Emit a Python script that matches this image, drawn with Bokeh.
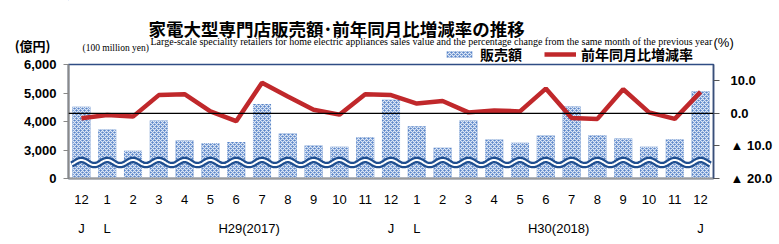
import numpy as np
from bokeh.plotting import figure
from bokeh.layouts import column
from bokeh.models import (Range1d, LinearAxis, FixedTicker, Span, Legend,
                          LegendItem, ColumnDataSource)
from bokeh.core.properties import value
from bokeh.embed import file_html
from bokeh.resources import INLINE

# ---- data ----
months = ["12", "1", "2", "3", "4", "5", "6", "7", "8", "9", "10", "11",
          "12", "1", "2", "3", "4", "5", "6", "7", "8", "9", "10", "11", "12"]
sales = [4520, 3720, 2970, 4035, 3330, 3250, 3280, 4610, 3575, 3160, 3115, 3445,
         4760, 3835, 3080, 4035, 3365, 3255, 3505, 4530, 3515, 3400, 3115, 3375, 5060]
pct_change = [-1.5, -0.5, -1.0, 5.6, 5.9, 0.6, -2.4, 9.4, 5.2, 1.1, -0.4, 5.9,
              5.6, 3.0, 3.8, 0.3, 0.9, 0.6, 7.6, -1.4, -1.7, 7.4, 0.3, -1.7, 6.6]
left_ticks = [2000, 3000, 4000, 5000, 6000]
left_labels = ["0", "3,000", "4,000", "5,000", "6,000"]
right_ticks = [-20, -10, 0, 10]
right_labels = ["▲ 20.0", "▲ 10.0", "0.0", "10.0"]
year_ticks = [0, 1, 6.5, 12, 13, 18.5, 24]
year_labels = ["J", "L", "H29(2017)", "J", "L", "H30(2018)", "J"]
title = "家電大型専門店販売額･前年同月比増減率の推移"
subtitle = ("Large-scale speciality retailers for home electric appliances sales value "
            "and the percentage change from the same month of the previous year")
unit_left = "(億円)"
unit_left_en = "(100 million yen)"
unit_right = "(%)"
legend_labels = ["販売額", "前年同月比増減率"]

W = 779
HEAD_H = 64
OVER = 12
FRAME_H = 114
MAIN_H = 244 - HEAD_H + OVER
FL, FR = 68, 713

BAR_STYLE = dict(fill_color="#5a85c8", line_color=None,
                 hatch_pattern="diagonal_cross", hatch_color="#e3ecf8",
                 hatch_scale=4, hatch_weight=1.1)
LINE_STYLE = dict(line_color="#c0282b", line_width=4.5)

xs = list(range(len(months)))
src = ColumnDataSource(dict(x=xs, sales=sales, pct=pct_change))

# ---------------- header figure (titles + legend) ----------------
h = figure(width=W, height=HEAD_H, output_backend="svg", toolbar_location=None,
           x_range=Range1d(FL, FR), y_range=Range1d(HEAD_H, 0),
           min_border_left=FL, min_border_right=W - FR,
           min_border_top=0, min_border_bottom=0)
h.xaxis.visible = False
h.grid.visible = False
h.outline_line_color = None

hl = h.yaxis[0]
hl.ticker = FixedTicker(ticks=[45])
hl.major_label_overrides = {45: unit_left}
hl.axis_line_color = None
hl.major_tick_line_color = None
hl.minor_tick_line_color = None
hl.major_tick_out = 0
hl.major_label_standoff = 18
hl.major_label_text_font = "Noto Sans CJK JP"
hl.major_label_text_font_style = "bold"
hl.major_label_text_font_size = "13px"
hl.major_label_text_color = "black"

hr = LinearAxis(ticker=FixedTicker(ticks=[42]), major_label_overrides={42: unit_right})
hr.axis_line_color = None
hr.major_tick_line_color = None
hr.minor_tick_line_color = None
hr.major_tick_out = 0
hr.major_label_standoff = 0
hr.major_label_text_font = "Liberation Sans"
hr.major_label_text_font_size = "13px"
hr.major_label_text_color = "black"
h.add_layout(hr, "right")


def htext(xc, yc, text, font, size, style="normal"):
    h.text(x=[xc], y=[yc], text=[text], text_font=value(font), text_font_size=size,
           text_font_style=style, text_align="left", text_baseline="middle",
           text_color="black")


htext(148, 28, title, "Noto Sans CJK JP", "17.5px", "bold")
htext(150, 40.5, subtitle, "Liberation Serif", "10px")
htext(82, 47, unit_left_en, "Liberation Serif", "9.5px")

lsrc = ColumnDataSource(dict(x=[-100, -99], y=[-100, -99]))
lb = h.vbar(x="x", top="y", bottom=-200, width=0.5, source=lsrc, **BAR_STYLE)
ll = h.line(x="x", y="y", source=lsrc, **LINE_STYLE)
legend = Legend(items=[LegendItem(label=legend_labels[0], renderers=[lb]),
                       LegendItem(label=legend_labels[1], renderers=[ll])],
                orientation="horizontal", location=(375, 0),
                padding=0, margin=0, spacing=22, label_standoff=5,
                glyph_width=32, glyph_height=8,
                background_fill_alpha=0, border_line_color=None,
                label_text_font="Noto Sans CJK JP", label_text_font_style="bold",
                label_text_font_size="14px", label_text_color="black",
                label_height=14)
h.add_layout(legend, "center")

# ---------------- main figure ----------------
p = figure(width=W, height=MAIN_H, output_backend="svg", toolbar_location=None,
           x_range=Range1d(-0.5, 24.5), y_range=Range1d(2000, 6000),
           min_border_left=FL, min_border_right=W - FR,
           min_border_top=OVER, min_border_bottom=MAIN_H - OVER - FRAME_H,
           margin=(-OVER, 0, 0, 0))
p.border_fill_color = None
p.extra_y_ranges = {"pct": Range1d(-20, 15)}
p.xgrid.visible = False
p.ygrid.visible = False
p.outline_line_color = "#2f4d84"
p.outline_line_width = 1.5

bars = p.vbar(x="x", top="sales", bottom=2000, width=0.7, source=src, **BAR_STYLE)

# axis-break wave decoration
wx = np.linspace(-0.38, 24.38, 900)
wy = 2560 + 90 * np.sin(2 * np.pi * (wx + 0.25))
p.line(wx, wy, line_color="#1f4e8f", line_width=6.5)
p.line(wx, wy, line_color="white", line_width=2)

p.add_layout(Span(location=0, dimension="width", y_range_name="pct",
                  line_color="black", line_width=1.2))

line = p.line(x="x", y="pct", source=src, y_range_name="pct", **LINE_STYLE)

# left axis
ya = p.yaxis[0]
ya.ticker = FixedTicker(ticks=left_ticks)
ya.major_label_overrides = {t: l for t, l in zip(left_ticks, left_labels)}
ya.minor_tick_line_color = None
ya.major_tick_out = 5
ya.major_tick_in = 0
ya.major_tick_line_color = "#888888"
ya.axis_line_color = "#8a8a8a"
ya.axis_line_width = 2
ya.major_label_standoff = 7
ya.major_label_text_font = "Liberation Sans"
ya.major_label_text_font_style = "bold"
ya.major_label_text_font_size = "13px"
ya.major_label_text_color = "black"

# right axis
ra = LinearAxis(y_range_name="pct", ticker=FixedTicker(ticks=right_ticks),
                major_label_overrides={t: l for t, l in zip(right_ticks, right_labels)})
ra.minor_tick_line_color = None
ra.major_tick_out = 6
ra.major_tick_in = 0
ra.major_tick_line_color = "#555555"
ra.axis_line_color = "#3a4f78"
ra.axis_line_width = 1.5
ra.major_label_standoff = 11
ra.major_label_text_font = "Liberation Sans"
ra.major_label_text_font_style = "bold"
ra.major_label_text_font_size = "13px"
ra.major_label_text_color = "black"
p.add_layout(ra, "right")

# bottom axis (months)
xa = p.xaxis[0]
xa.ticker = FixedTicker(ticks=xs)
xa.major_label_overrides = {i: m for i, m in zip(xs, months)}
xa.minor_tick_line_color = None
xa.major_tick_line_color = None
xa.major_tick_out = 0
xa.major_tick_in = 0
xa.axis_line_color = "#9a9a9a"
xa.axis_line_width = 2
xa.major_label_standoff = 16
xa.major_label_text_font = "Liberation Sans"
xa.major_label_text_font_size = "13px"
xa.major_label_text_color = "black"

# second bottom axis (years)
xa2 = LinearAxis(ticker=FixedTicker(ticks=year_ticks),
                 major_label_overrides={t: l for t, l in zip(year_ticks, year_labels)})
xa2.axis_line_color = None
xa2.major_tick_line_color = None
xa2.minor_tick_line_color = None
xa2.major_tick_out = 0
xa2.major_tick_in = 0
xa2.major_label_standoff = 14
xa2.major_label_text_font = "Liberation Sans"
xa2.major_label_text_font_size = "13px"
xa2.major_label_text_color = "black"
p.add_layout(xa2, "below")

layout = column(h, p, spacing=0)
open("out.html", "w").write(file_html(layout, INLINE))
